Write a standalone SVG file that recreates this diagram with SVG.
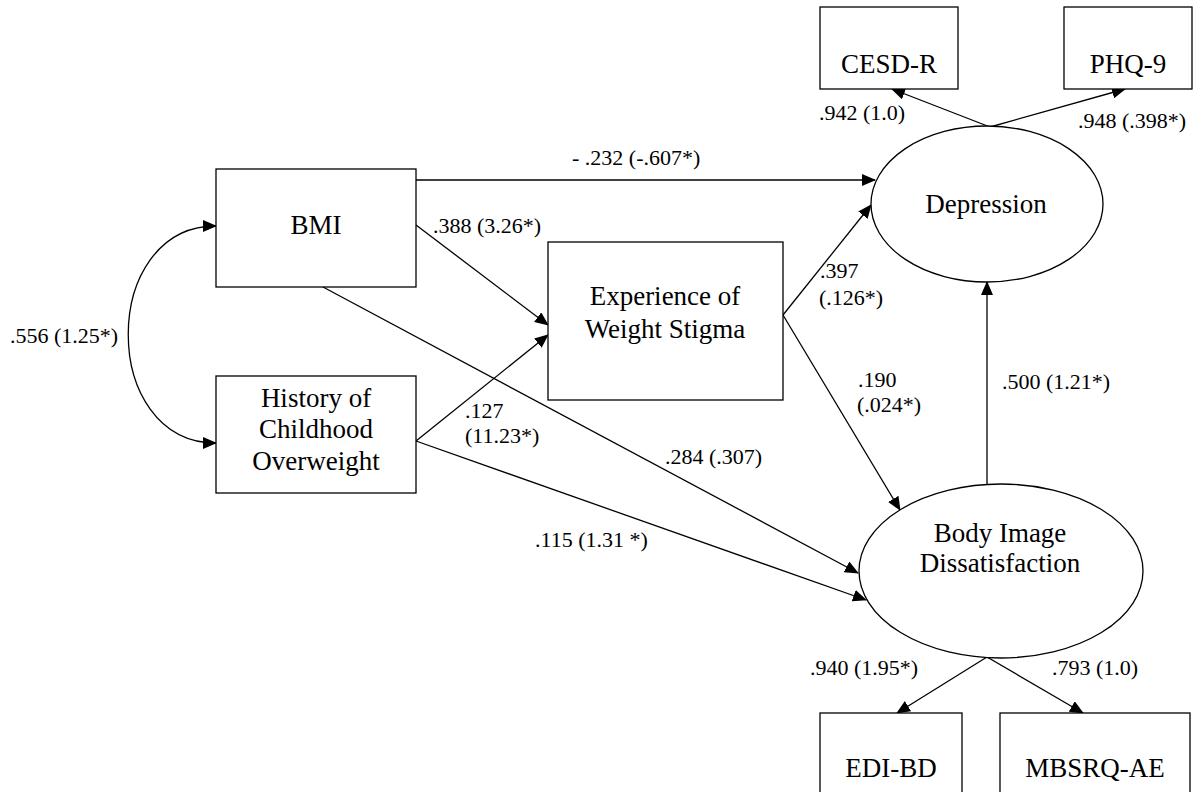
<svg xmlns="http://www.w3.org/2000/svg" width="1193" height="792" viewBox="0 0 1193 792">
<style>
.box{fill:#fff;stroke:#000;stroke-width:1.3}
.node{font-family:"Liberation Serif","Times New Roman",serif;font-size:27px;fill:#000;text-anchor:middle}
.lbl{font-family:"Liberation Serif","Times New Roman",serif;font-size:22px;fill:#000}
.edge{fill:none;stroke:#000;stroke-width:1.3}
</style>
<defs>
<marker id="ah" markerUnits="userSpaceOnUse" markerWidth="14" markerHeight="12" refX="13" refY="6" orient="auto-start-reverse" viewBox="0 0 14 12">
<path d="M0,0 L14,6 L0,12 z" fill="#000"/>
</marker>
</defs>
<rect width="1193" height="792" fill="#fff"/>
<g id="connectors">
<path class="edge" d="M216,226 C99,226 99,443 216,443" marker-start="url(#ah)" marker-end="url(#ah)"/>
<line class="edge" x1="416" y1="180" x2="875" y2="180" marker-end="url(#ah)"/>
<line class="edge" x1="416" y1="225" x2="548" y2="325" marker-end="url(#ah)"/>
<line class="edge" x1="416" y1="441" x2="548" y2="335" marker-end="url(#ah)"/>
<line class="edge" x1="323" y1="287" x2="858" y2="573" marker-end="url(#ah)"/>
<line class="edge" x1="416" y1="441" x2="866" y2="600" marker-end="url(#ah)"/>
<line class="edge" x1="783" y1="315" x2="871" y2="205" marker-end="url(#ah)"/>
<line class="edge" x1="783" y1="315" x2="900" y2="510" marker-end="url(#ah)"/>
<line class="edge" x1="987" y1="484" x2="987" y2="282" marker-end="url(#ah)"/>
<line class="edge" x1="990" y1="127" x2="892" y2="89" marker-end="url(#ah)"/>
<line class="edge" x1="990" y1="127" x2="1125" y2="89" marker-end="url(#ah)"/>
<line class="edge" x1="987" y1="657" x2="897" y2="713" marker-end="url(#ah)"/>
<line class="edge" x1="987" y1="657" x2="1083" y2="713" marker-end="url(#ah)"/>
</g>
<g id="edge-labels">
<text class="lbl" x="10" y="343">.556 (1.25*)</text>
<text class="lbl" x="572" y="165">- .232 (-.607*)</text>
<text class="lbl" x="433" y="233">.388 (3.26*)</text>
<text class="lbl" x="465" y="418">.127</text>
<text class="lbl" x="465" y="443">(11.23*)</text>
<text class="lbl" x="665" y="464">.284 (.307)</text>
<text class="lbl" x="535" y="547">.115 (1.31 *)</text>
<text class="lbl" x="820" y="278">.397</text>
<text class="lbl" x="819" y="305">(.126*)</text>
<text class="lbl" x="858" y="387">.190</text>
<text class="lbl" x="857" y="412">(.024*)</text>
<text class="lbl" x="1002" y="389">.500 (1.21*)</text>
<text class="lbl" x="819" y="120">.942 (1.0)</text>
<text class="lbl" x="1078" y="128">.948 (.398*)</text>
<text class="lbl" x="810" y="675">.940 (1.95*)</text>
<text class="lbl" x="1052" y="675">.793 (1.0)</text>
</g>
<g id="bmi">
<rect class="box" x="216" y="169" width="200" height="118"/>
<text class="node" x="316" y="234">BMI</text>
</g>
<g id="history">
<rect class="box" x="216" y="376" width="200" height="117"/>
<text class="node" x="316" y="407">History of</text>
<text class="node" x="316" y="438">Childhood</text>
<text class="node" x="316" y="470">Overweight</text>
</g>
<g id="stigma">
<rect class="box" x="548" y="242" width="235" height="158"/>
<text class="node" x="665" y="305">Experience of</text>
<text class="node" x="665" y="338">Weight Stigma</text>
</g>
<g id="depression">
<ellipse class="box" cx="987" cy="204" rx="116" ry="78"/>
<text class="node" x="986" y="213">Depression</text>
</g>
<g id="body-image">
<ellipse class="box" cx="1001" cy="571" rx="142" ry="87"/>
<text class="node" x="1000" y="542">Body Image</text>
<text class="node" x="1000" y="572">Dissatisfaction</text>
</g>
<g id="cesd">
<rect class="box" x="820" y="7" width="138" height="82"/>
<text class="node" x="889" y="73">CESD-R</text>
</g>
<g id="phq">
<rect class="box" x="1064" y="7" width="128" height="82"/>
<text class="node" x="1128" y="73">PHQ-9</text>
</g>
<g id="edi">
<rect class="box" x="820" y="713" width="142" height="100"/>
<text class="node" x="891" y="777">EDI-BD</text>
</g>
<g id="mbsrq">
<rect class="box" x="1000" y="713" width="190" height="100"/>
<text class="node" x="1095" y="777">MBSRQ-AE</text>
</g>
</svg>
